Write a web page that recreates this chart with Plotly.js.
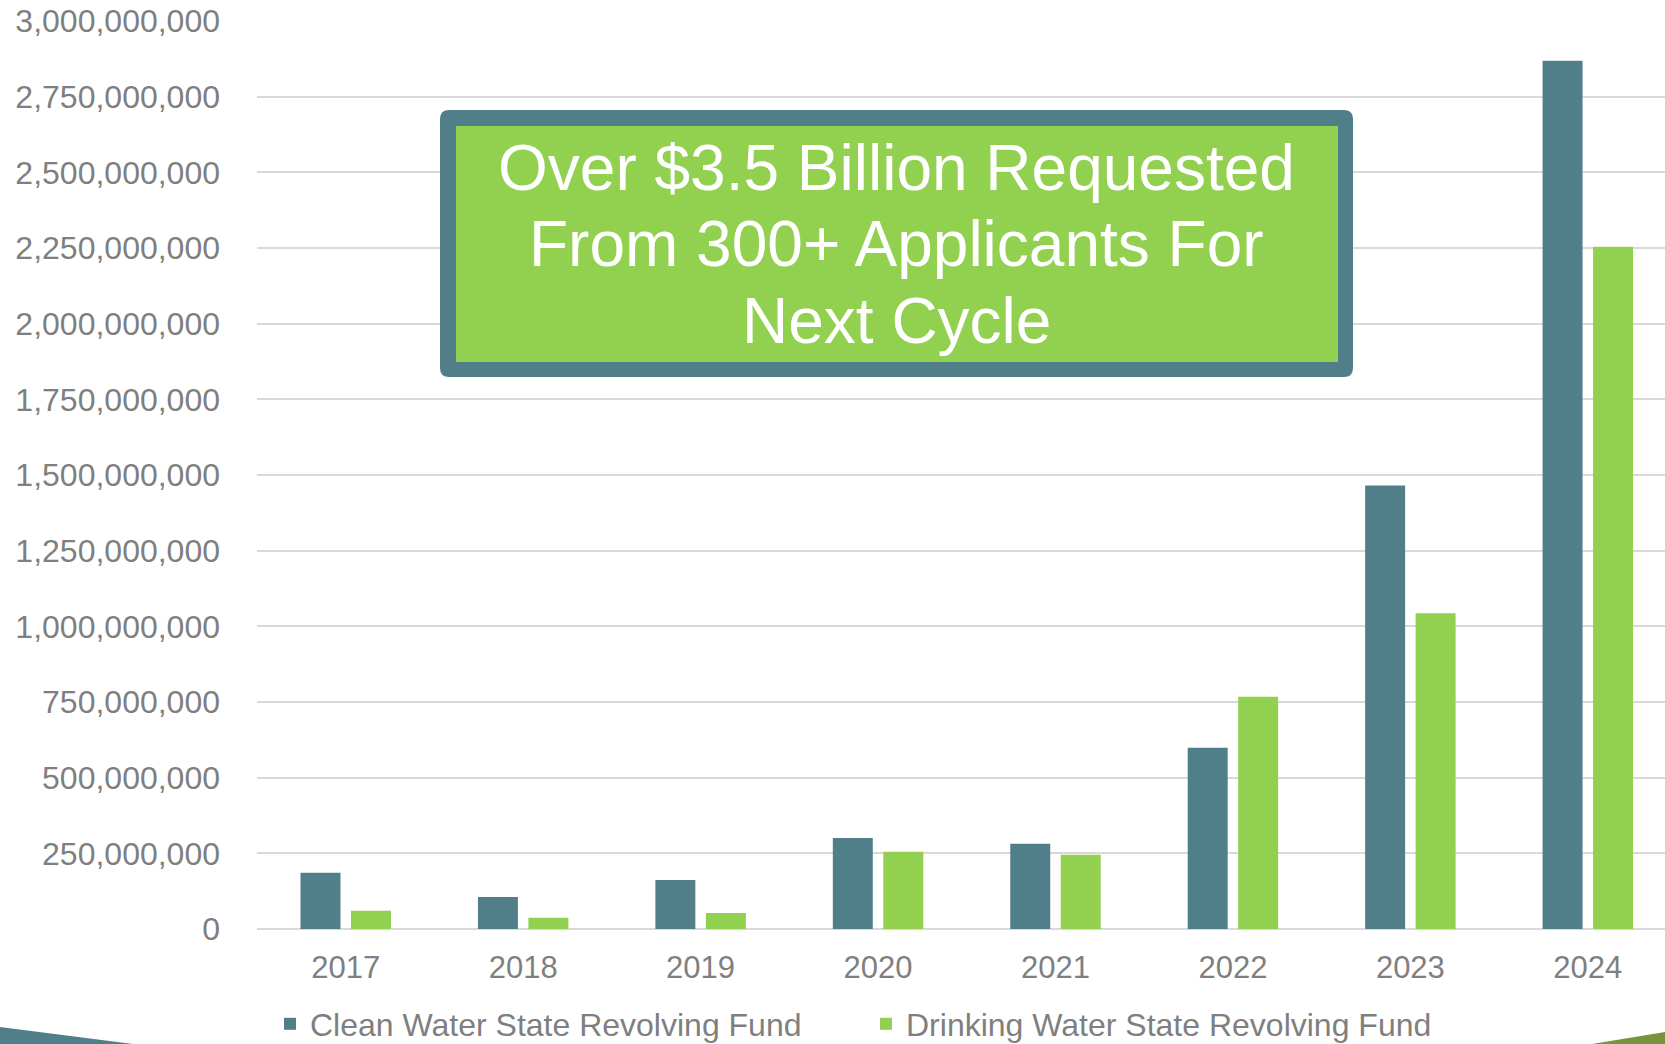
<!DOCTYPE html>
<html>
<head>
<meta charset="utf-8">
<script src="https://cdn.plot.ly/plotly-3.0.1.min.js"></script>
<style>html,body{margin:0;padding:0;background:#fff;}#chart{width:1665px;height:1044px;}</style>
</head>
<body>
<div id="chart"></div>
<script>
// ---- data ----
var years = ["2017", "2018", "2019", "2020", "2021", "2022", "2023", "2024"];
var cleanWater = [186000000, 106000000, 162000000, 301000000, 282000000, 599000000, 1465000000, 2869000000];
var drinkingWater = [60000000, 37000000, 53000000, 255000000, 245000000, 767000000, 1043000000, 2254000000];
var seriesNames = ["Clean Water State Revolving Fund", "Drinking Water State Revolving Fund"];
var yTicks = [0, 250000000, 500000000, 750000000, 1000000000, 1250000000, 1500000000, 1750000000, 2000000000, 2250000000, 2500000000, 2750000000, 3000000000];
var calloutLines = ["Over $3.5 Billion Requested", "From 300+ Applicants For", "Next Cycle"];

// ---- layout helpers ----
var W = 1665, H = 1044;
var M = {l: 257, r: 0, t: 21, b: 115};
var PW = W - M.l - M.r, PH = H - M.t - M.b;
function px(x) { return (x - M.l) / PW; }
function py(y) { return (H - M.b - y) / PH; }

var TEAL = "#507F8A", GREEN = "#92D050", GRAY = "#7F7F7F";
var FONT = "Liberation Sans, Arial, sans-serif";

function fmt(v) { return v.toLocaleString("en-US"); }

var traces = [
  {type: "bar", x: years, y: cleanWater, name: seriesNames[0], marker: {color: TEAL}, legend: "legend", hoverinfo: "skip"},
  {type: "bar", x: years, y: drinkingWater, name: seriesNames[1], marker: {color: GREEN}, legend: "legend2", hoverinfo: "skip"}
];

// rounded callout frame
function roundedRect(x0, y0, x1, y1, r) {
  var rx = r / PW, ry = r / PH;
  var L = px(x0), R = px(x1), T = py(y0), B = py(y1);
  return "M" + (L + rx) + "," + T +
    " L" + (R - rx) + "," + T + " Q" + R + "," + T + " " + R + "," + (T - ry) +
    " L" + R + "," + (B + ry) + " Q" + R + "," + B + " " + (R - rx) + "," + B +
    " L" + (L + rx) + "," + B + " Q" + L + "," + B + " " + L + "," + (B + ry) +
    " L" + L + "," + (T - ry) + " Q" + L + "," + T + " " + (L + rx) + "," + T + " Z";
}
function poly(pts) {
  return "M" + pts.map(function (p) { return px(p[0]) + "," + py(p[1]); }).join(" L") + " Z";
}

var shapes = [
  {type: "path", xref: "paper", yref: "paper", path: roundedRect(440, 110, 1353, 377, 9), fillcolor: TEAL, line: {width: 0}, layer: "above"},
  {type: "rect", xref: "paper", yref: "paper", x0: px(456), x1: px(1338), y0: py(126), y1: py(362), fillcolor: GREEN, line: {width: 0}, layer: "above"},
  {type: "path", xref: "paper", yref: "paper", path: poly([[0, 1027], [133, 1044], [0, 1044]]), fillcolor: TEAL, line: {width: 0}, layer: "above"},
  {type: "path", xref: "paper", yref: "paper", path: poly([[1592, 1044], [1665, 1032], [1665, 1044]]), fillcolor: "#77933C", line: {width: 0}, layer: "above"}
];

var lineY = [167.5, 244, 321];
var annotations = calloutLines.map(function (t, i) {
  return {xref: "paper", yref: "paper", x: px(896.5), y: py(lineY[i]), xanchor: "center", yanchor: "middle",
    text: t, showarrow: false, font: {family: FONT, size: 64, color: "#FFFFFF"}};
});

var layout = {
  width: W, height: H,
  margin: M,
  paper_bgcolor: "#FFFFFF", plot_bgcolor: "#FFFFFF",
  font: {family: FONT, color: GRAY, size: 32},
  barmode: "group", bargap: 0.431, bargroupgap: 0.208,
  xaxis: {type: "category", range: [-0.5, 7.435], showgrid: false, zeroline: false, showline: false,
    ticks: "", tickfont: {family: FONT, size: 31, color: GRAY}, ticklabelstandoff: 17, fixedrange: true},
  yaxis: {range: [0, 3000000000], tickmode: "array", tickvals: yTicks, ticktext: yTicks.map(fmt),
    showgrid: true, gridcolor: "#D9D9D9", gridwidth: 2, zeroline: true, zerolinecolor: "#D9D9D9", zerolinewidth: 2,
    showline: false, ticks: "", tickfont: {family: FONT, size: 32, color: GRAY}, ticklabelstandoff: 36, fixedrange: true},
  legend: {orientation: "h", xref: "container", yref: "container", x: 270 / W, y: 1 - 1024 / H, xanchor: "left", yanchor: "middle",
    font: {family: FONT, size: 32, color: GRAY}, bgcolor: "rgba(0,0,0,0)"},
  legend2: {orientation: "h", xref: "container", yref: "container", x: 866 / W, y: 1 - 1024 / H, xanchor: "left", yanchor: "middle",
    font: {family: FONT, size: 32, color: GRAY}, bgcolor: "rgba(0,0,0,0)"},
  shapes: shapes,
  annotations: annotations,
  showlegend: true
};

Plotly.newPlot("chart", traces, layout, {displayModeBar: false, staticPlot: true});
</script>
</body>
</html>
